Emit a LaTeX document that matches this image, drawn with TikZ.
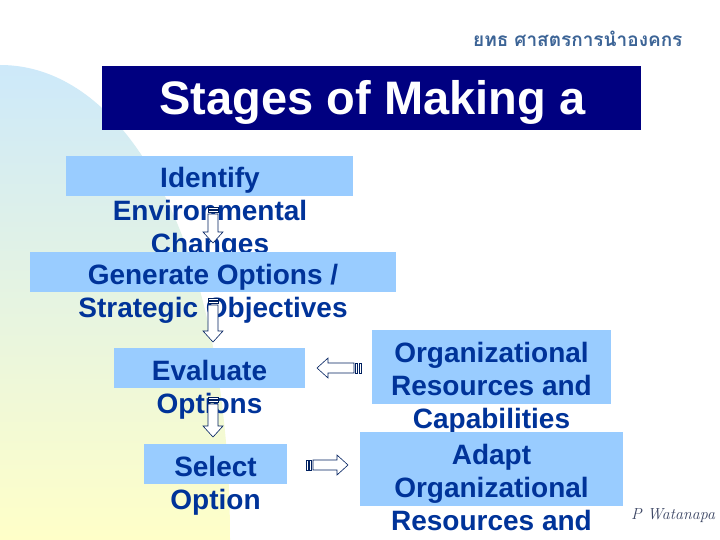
\documentclass[tikz,border=0pt]{standalone}
\usepackage{fontspec}
\newfontfamily\arialfont{Liberation Sans}
\newfontfamily\thaifont[Script=Thai]{Loma}
\definecolor{boxfill}{RGB}{153,204,255}
\definecolor{txtblue}{RGB}{0,51,153}
\definecolor{titlenavy}{RGB}{0,0,128}
\definecolor{arrowc}{RGB}{0,32,96}
\definecolor{thaic}{RGB}{60,100,150}
\definecolor{sigc}{RGB}{60,70,100}
\definecolor{bgtop}{RGB}{205,233,250}
\definecolor{bgbot}{RGB}{255,255,200}
\tikzset{
  stagebox/.style={fill=boxfill,draw=none,inner sep=0pt,outer sep=0pt},
  stageline/.style={anchor=base,text=txtblue,inner sep=0pt,
    font=\arialfont\bfseries\fontsize{28}{33}\selectfont},
  arrowline/.style={draw=arrowc,fill=white,line width=0.6pt,line join=miter},
  pics/striparrow/.style={code={
    \draw[arrowline] (0,-5) rectangle (2,5);
    \draw[arrowline] (3.5,-5) rectangle (5.5,5);
    \draw[arrowline] (7,-5) -- (#1-11,-5) -- (#1-11,-10) -- (#1,0)
      -- (#1-11,10) -- (#1-11,5) -- (7,5) -- cycle;
  }}
}
\begin{document}
\begin{tikzpicture}[x=1pt,y=-1pt]
\useasboundingbox (0,0) rectangle (720,540);
\fill[white] (0,0) rectangle (720,540);
% background shape
\shade[top color=bgtop,bottom color=bgbot]
  (0,65) .. controls (130,65) and (230,250) .. (230,540) -- (0,540) -- cycle;
% header
\node[anchor=base west,text=thaic,inner sep=0pt,
  font=\thaifont\bfseries\fontsize{19}{22}\selectfont] (thai) at (473,47) {ยทธ\hspace{6pt}ศาสตรการนำองคกร};
\node[fill=titlenavy,minimum width=539,minimum height=64,inner sep=0pt] (title) at (371.5,98) {};
\node[anchor=base,text=white,inner sep=0pt,
  font=\arialfont\bfseries\fontsize{47}{50}\selectfont] (titletext) at (372.5,115) {Stages of Making a};
% box 1
\node[stagebox,minimum width=287,minimum height=40] (b1) at (209.5,176) {};
\node[stageline] (b1a) at (210,188) {Identify};
\node[stageline] (b1b) at (210,221) {Environmental};
\node[stageline] (b1c) at (210,254) {Changes};
% box 2
\node[stagebox,minimum width=366,minimum height=40] (b2) at (213,272) {};
\node[stageline] (b2a) at (213,284) {Generate Options /};
\node[stageline] (b2b) at (213,317) {Strategic Objectives};
% box 3
\node[stagebox,minimum width=191,minimum height=40] (b3) at (209.5,368) {};
\node[stageline] (b3a) at (209.5,380) {Evaluate};
\node[stageline] (b3b) at (209.5,413) {Options};
% box 4
\node[stagebox,minimum width=143,minimum height=40] (b4) at (215.5,464) {};
\node[stageline] (b4a) at (215.5,476) {Select};
\node[stageline] (b4b) at (215.5,509) {Option};
% box 5
\node[stagebox,minimum width=239,minimum height=74] (b5) at (491.5,367) {};
\node[stageline] (b5a) at (491.5,362) {Organizational};
\node[stageline] (b5b) at (491.5,395) {Resources and};
\node[stageline] (b5c) at (491.5,428) {Capabilities};
% box 6
\node[stagebox,minimum width=263,minimum height=74] (b6) at (491.5,469) {};
\node[stageline] (b6a) at (491.5,464) {Adapt};
\node[stageline] (b6b) at (491.5,497) {Organizational};
\node[stageline] (b6c) at (491.5,530) {Resources and};
% striped block arrows
\pic[rotate=-90] at (213,207) {striparrow=36};
\pic[rotate=-90] at (213,298) {striparrow=44};
\pic[rotate=-90] at (213,397) {striparrow=40};
\pic[rotate=180] at (361,368) {striparrow=44};
\pic at (306,465) {striparrow=42};
% signature
\node[anchor=base west,text=sigc,inner sep=0pt,
  font=\itshape\fontsize{16}{19}\selectfont] (sig) at (631,519) {P Watanapa};
\end{tikzpicture}
\end{document}
